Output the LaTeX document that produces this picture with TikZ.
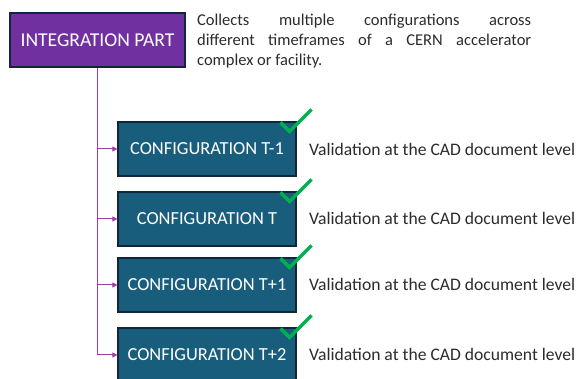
\documentclass[tikz,border=0pt]{standalone}
\usepackage{fontspec}
\setmainfont{Carlito}
\usetikzlibrary{arrows.meta}
\definecolor{purp}{HTML}{7030A0}
\definecolor{confc}{HTML}{195D7D}
\definecolor{bordc}{HTML}{12263A}
\definecolor{linkc}{HTML}{A23CA2}
\definecolor{checkc}{HTML}{00B050}
\definecolor{txtc}{HTML}{2B2B2B}
\begin{document}
\begin{tikzpicture}[x=1pt,y=-1pt,
  intbox/.style={draw=bordc, line width=1.2pt, fill=purp, text=white, minimum width=175pt, minimum height=54pt, inner sep=0pt, font=\fontsize{19.6}{22}\selectfont},
  confbox/.style={draw=bordc, line width=1.2pt, fill=confc, text=white, minimum width=178pt, minimum height=54pt, inner sep=0pt, font=\fontsize{18.4}{20}\selectfont},
  valtext/.style={anchor=base west, text=txtc, font=\fontsize{17.6}{20}\selectfont, inner sep=0pt},
  desc/.style={anchor=north west, text=txtc, font=\fontsize{16.5}{20}\selectfont, inner sep=0pt, text width=334pt, align=justify},
  trunk/.style={draw=linkc, line width=1pt},
  link/.style={draw=linkc, line width=1pt, -{Triangle[length=5pt,width=5pt]}},
  tick/.style={draw=checkc, line width=3.5pt}
]
\useasboundingbox (0,0) rectangle (579,379);
\node[intbox] (ip) at (97.5,40) {INTEGRATION PART};
\node[desc] (d) at (197,14) {Collects multiple configurations across\linebreak different timeframes of a CERN accelerator\linebreak complex or facility.};
\node[confbox] (c1) at (207,149) {CONFIGURATION T-1};
\node[confbox] (c2) at (207,219) {CONFIGURATION T};
\node[confbox] (c3) at (207,285) {CONFIGURATION T+1};
\node[confbox] (c4) at (207,355) {CONFIGURATION T+2};
\foreach \i/\y in {1/156,2/225,3/291,4/361}{
  \node[valtext] (v\i) at (309,\y) {Validation at the CAD document level};
  \draw[tick] ([shift={(-16,1)}]c\i.north east) -- ([shift={(-7,10)}]c\i.north east) -- ([shift={(15,-12)}]c\i.north east);
}
\draw[trunk] (ip.south) -- (ip.south |- c4.west);
\foreach \i in {1,2,3,4}{
  \draw[link] (ip.south |- c\i.west) -- (c\i.west);
}
\end{tikzpicture}
\end{document}
